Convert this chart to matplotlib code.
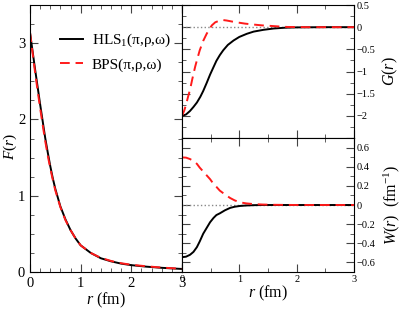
import matplotlib
matplotlib.use("Agg")
import matplotlib.pyplot as plt
from matplotlib.ticker import MultipleLocator, FuncFormatter

plt.rcParams['font.family'] = ['Liberation Serif', 'DejaVu Serif']
plt.rcParams['mathtext.fontset'] = 'custom'
plt.rcParams['mathtext.rm'] = 'Liberation Serif'
plt.rcParams['mathtext.it'] = 'Liberation Serif:italic'

# ---- data ----
r_F = [0, 0.05, 0.1, 0.15, 0.2, 0.25, 0.3, 0.35, 0.4, 0.45, 0.5, 0.6, 0.7, 0.8, 0.9,
       1.0, 1.2, 1.4, 1.6, 1.8, 2.0, 2.3, 2.6, 3.0]
F_hls = [3.14, 2.90, 2.66, 2.43, 2.20, 1.98, 1.76, 1.57, 1.39, 1.23, 1.09, 0.86, 0.69,
         0.55, 0.44, 0.35, 0.25, 0.18, 0.14, 0.11, 0.09, 0.07, 0.055, 0.04]
F_bps = [3.14, 2.88, 2.62, 2.38, 2.15, 1.93, 1.72, 1.53, 1.36, 1.21, 1.07, 0.85, 0.68,
         0.55, 0.44, 0.35, 0.25, 0.185, 0.145, 0.115, 0.095, 0.075, 0.058, 0.042]

r_G_hls = [0, 0.07, 0.14, 0.2, 0.26, 0.32, 0.37, 0.43, 0.49, 0.55, 0.6, 0.66, 0.72, 0.8,
           0.9, 1.0, 1.13, 1.25, 1.42, 1.6, 1.8, 2.0, 2.5, 3.0]
G_hls = [-2.0, -1.97, -1.89, -1.80, -1.70, -1.57, -1.44, -1.26, -1.07, -0.90, -0.76,
         -0.63, -0.52, -0.40, -0.30, -0.22, -0.15, -0.10, -0.06, -0.03, -0.012, -0.005,
         0.0, 0.0]
r_G_bps = [0, 0.04, 0.08, 0.11, 0.14, 0.18, 0.23, 0.27, 0.31, 0.37, 0.43, 0.48, 0.52,
           0.58, 0.66, 0.72, 0.78, 0.86, 0.95, 1.1, 1.24, 1.4, 1.53, 1.7, 1.83, 2.2,
           2.6, 3.0]
G_bps = [-2.0, -1.88, -1.70, -1.55, -1.41, -1.17, -0.89, -0.70, -0.52, -0.31, -0.15,
         -0.04, 0.04, 0.11, 0.15, 0.16, 0.15, 0.13, 0.11, 0.08, 0.06, 0.04, 0.03, 0.015,
         0.005, 0.0, 0.0, 0.0]

r_W = [0, 0.07, 0.14, 0.2, 0.26, 0.31, 0.37, 0.43, 0.49, 0.55, 0.6, 0.66, 0.75, 0.84,
       0.92, 1.01, 1.12, 1.24, 1.4, 1.6, 2.0, 2.5, 3.0]
W_hls = [-0.545, -0.54, -0.52, -0.49, -0.44, -0.38, -0.30, -0.24, -0.18, -0.135,
         -0.105, -0.087, -0.055, -0.03, -0.018, -0.01, -0.005, -0.002, 0.0, 0.0, 0.0,
         0.0, 0.0]
W_bps = [0.497, 0.495, 0.48, 0.46, 0.43, 0.39, 0.35, 0.31, 0.27, 0.22, 0.19, 0.15,
         0.11, 0.073, 0.048, 0.028, 0.017, 0.01, 0.005, 0.002, 0.0, 0.0, 0.0]

labels = ['HLS$_1$(π,ρ,ω)', 'BPS(π,ρ,ω)']


def g_fmt(v, p):
    if v < -2.2:
        return ''
    return ('%g' % round(v, 2)).replace('-', '\u2212')


def w_fmt(v, p):
    return ('%g' % round(v, 1)).replace('-', '\u2212')


# ---- figure ----
fig = plt.figure(figsize=(4.02, 3.09), dpi=100)
axF = fig.add_axes([0.0746, 0.1197, 0.378, 0.864])
axG = fig.add_axes([0.4527, 0.5534, 0.4279, 0.4304])
axW = fig.add_axes([0.4527, 0.1197, 0.4279, 0.4337])

dash = (0, (5, 3))
red = '#ff1a1a'

axF.plot(r_F, F_hls, color='black', lw=1.4, label=labels[0])
axF.plot(r_F, F_bps, color=red, lw=1.4, ls=dash, label=labels[1])
axF.set_xlim(0, 3)
axF.set_ylim(0, 3.5)
axF.xaxis.set_major_locator(MultipleLocator(1))
axF.xaxis.set_minor_locator(MultipleLocator(0.2))
axF.yaxis.set_major_locator(MultipleLocator(1))
axF.yaxis.set_minor_locator(MultipleLocator(0.25))
axF.tick_params(which='both', direction='in', top=True, right=True, labelsize=10.5,
                color='#444444')
axF.tick_params(which='major', length=6)
axF.tick_params(which='minor', length=3)
axF.set_ylabel('$F(r)$', fontsize=11)
axF.yaxis.set_label_coords(-0.07, 0.47)
axF.set_xlabel('$r$ (fm)', fontsize=11.5, labelpad=1)
axF.legend(loc='upper left', bbox_to_anchor=(0.11, 0.95), frameon=False, fontsize=11,
           handlelength=1.45, handletextpad=0.6, labelspacing=0.55)

axG.axhline(0, color='#888888', lw=1, ls=':')
axG.plot(r_G_hls, G_hls, color='black', lw=1.4)
axG.plot(r_G_bps, G_bps, color=red, lw=1.4, ls=dash)
axG.set_xlim(0, 3)
axG.set_ylim(-2.5, 0.5)
axG.xaxis.set_major_locator(MultipleLocator(1))
axG.xaxis.set_minor_locator(MultipleLocator(0.5))
axG.yaxis.set_major_locator(MultipleLocator(0.5))
axG.yaxis.set_minor_locator(MultipleLocator(0.25))
axG.tick_params(which='both', direction='in', top=True, left=True, right=True,
                labelleft=False, labelright=True, labelbottom=False, labelsize=7.5,
                color='#444444', pad=2)
axG.tick_params(which='major', length=6)
axG.tick_params(which='minor', length=3)
axG.yaxis.set_label_position('right')
axG.set_ylabel('$G(r)$', fontsize=11.5, labelpad=4)
axG.yaxis.set_major_formatter(FuncFormatter(g_fmt))

axW.axhline(0, color='#888888', lw=1, ls=':')
axW.plot(r_W, W_hls, color='black', lw=1.4)
axW.plot(r_W, W_bps, color=red, lw=1.4, ls=dash)
axW.set_xlim(0, 3)
axW.set_ylim(-0.7, 0.7)
axW.xaxis.set_major_locator(MultipleLocator(1))
axW.xaxis.set_minor_locator(MultipleLocator(0.5))
axW.yaxis.set_major_locator(MultipleLocator(0.2))
axW.yaxis.set_minor_locator(MultipleLocator(0.1))
axW.tick_params(which='both', direction='in', top=True, left=True, right=True,
                labelleft=False, labelright=True, labelsize=7.5, color='#444444', pad=2)
axW.tick_params(which='major', length=6)
axW.tick_params(which='minor', length=3)
axW.yaxis.set_label_position('right')
axW.set_ylabel('$W(r)$  (fm$^{-1}$)', fontsize=11.5, labelpad=4)
axW.set_xlabel('$r$ (fm)', fontsize=11.5, labelpad=0)
axW.yaxis.set_major_formatter(FuncFormatter(w_fmt))

fig.savefig('out.png', dpi=100)
